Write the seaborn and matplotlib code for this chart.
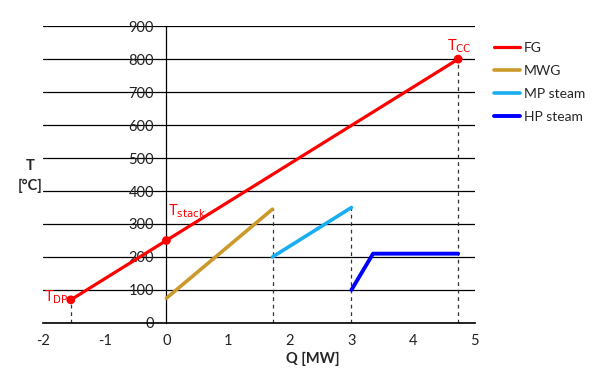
import numpy as np
import pandas as pd
import matplotlib
matplotlib.use("Agg")
import matplotlib.pyplot as plt
import seaborn as sns

# composite curve data (Q in MW, T in degC)
fg_q = [-1.55, 4.73]
fg_t = [70, 800]
mwg_q = [0.0, 1.72]
mwg_t = [75, 345]
mp_q = [1.72, 3.0]
mp_t = [200, 350]
hp_q = [3.0, 3.35, 4.73]
hp_t = [100, 210, 210]

# key points: dew point, stack, combustion chamber
pts_q = [-1.55, 0.0, 4.73]
pts_t = [70, 250, 800]

# dashed drop lines
drop_q = [-1.55, 1.72, 3.0, 4.73]
drop_t = [70, 345, 350, 800]

x_ticks = [-2, -1, 0, 1, 2, 3, 4, 5]
y_ticks = [0, 100, 200, 300, 400, 500, 600, 700, 800, 900]

sns.set_style("white")
plt.rcParams['font.family'] = ['Lato', 'DejaVu Sans']

fig = plt.figure(figsize=(5.98, 3.79), dpi=100)
ax = fig.add_axes([0.072, 0.148, 0.722, 0.783])

for q, t in zip(drop_q, drop_t):
    ax.plot([q, q], [0, t], color="#333333", lw=0.9, ls=(0, (3, 3)), zorder=1)

sns.lineplot(x=fg_q, y=fg_t, color="#FF0000", lw=2.3, label="FG", ax=ax, zorder=3)
sns.lineplot(x=mwg_q, y=mwg_t, color="#CC9A2A", lw=2.6, label="MWG", ax=ax, zorder=3)
sns.lineplot(x=mp_q, y=mp_t, color="#18AEF0", lw=2.6, label="MP steam", ax=ax, zorder=3)
df_hp = pd.DataFrame({"q": hp_q, "t": hp_t})
sns.lineplot(data=df_hp, x="q", y="t", color="#0000FF", lw=2.8, label="HP steam",
             ax=ax, zorder=3, sort=False)
sns.scatterplot(x=pts_q, y=pts_t, color="#FF0000", s=40, edgecolor="none", ax=ax, zorder=4)

ax.text(-1.98, 78, r"T$_{\mathrm{DP}}$", color="#FF0000", fontsize=10.5, ha="left", va="center")
ax.text(0.02, 338, r"T$_{\mathrm{stack}}$", color="#FF0000", fontsize=10.5, ha="left", va="center")
ax.text(4.55, 840, r"T$_{\mathrm{CC}}$", color="#FF0000", fontsize=10.5, ha="left", va="center")

ax.set_xlim(-2, 5)
ax.set_ylim(0, 900)
ax.set_xticks(x_ticks)
ax.set_yticks(y_ticks)
ax.set_xticklabels([str(v) for v in x_ticks])
ax.set_yticklabels([str(v) for v in y_ticks])
ax.yaxis.grid(True, color="black", lw=0.9)
ax.xaxis.grid(False)
ax.set_axisbelow(True)

for s in ["top", "right"]:
    ax.spines[s].set_visible(False)
ax.spines["left"].set_position(("data", 0))
ax.spines["left"].set_color("black")
ax.spines["left"].set_linewidth(0.9)
ax.spines["bottom"].set_color("black")
ax.spines["bottom"].set_linewidth(1.2)
ax.tick_params(axis="x", direction="out", length=5, width=1, color="black",
               labelsize=10.5, labelcolor="#222222", pad=3)
ax.tick_params(axis="y", length=0, labelsize=10.5, labelcolor="#222222", pad=9)

ax.set_xlabel("Q [MW]", fontsize=10.5, fontweight="bold")
ax.xaxis.set_label_coords(0.625, -0.098)
ax.set_ylabel("")
fig.text(0.05, 0.535, "T\n[°C]", fontsize=10.5, fontweight="bold", ha="center", va="center",
         linespacing=1.5)

ax.legend(loc="upper left", bbox_to_anchor=(1.015, 0.99), frameon=False, fontsize=10,
          handlelength=1.9, handletextpad=0.25, labelspacing=0.8)

fig.savefig("out.png", dpi=100)
